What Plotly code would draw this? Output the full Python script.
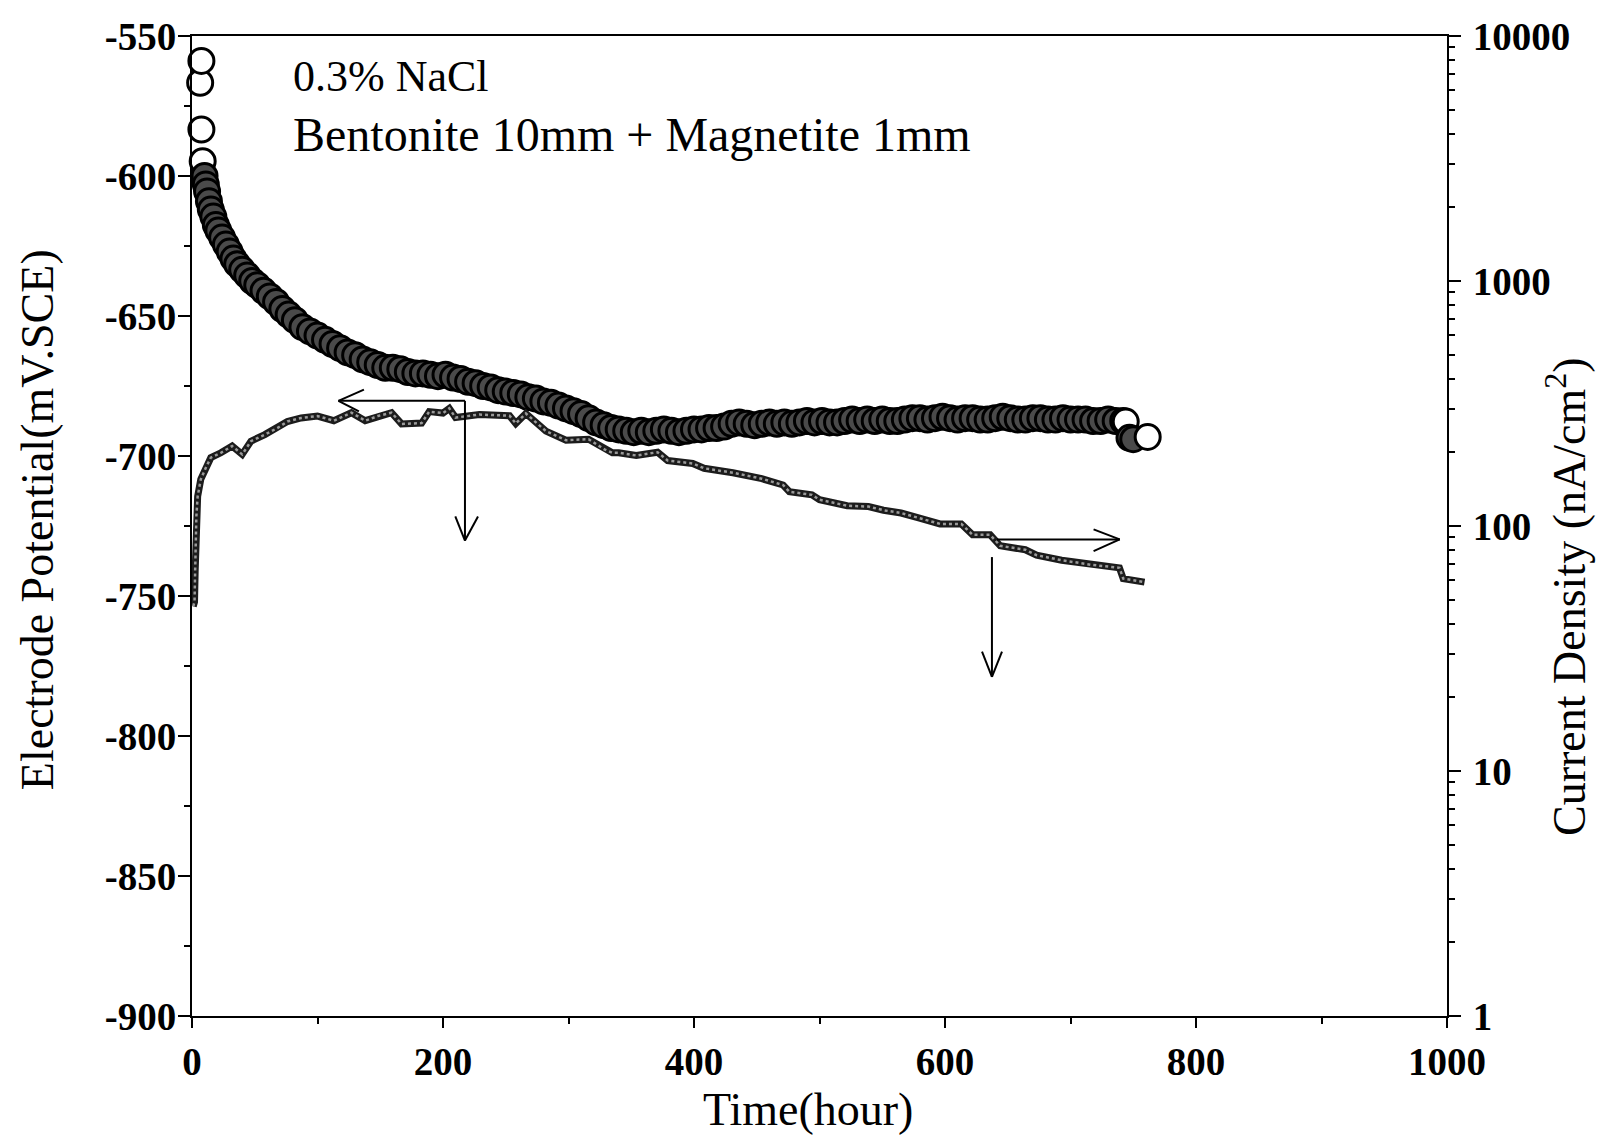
import plotly.graph_objects as go

# ---- Electrode potential (left axis, mV vs SCE) ----
time_pot = [6.5, 7.5, 7.5, 8.5, 10, 11, 12, 13.5, 15, 17, 19, 21, 24, 27, 30, 33, 36, 40, 44, 48,
            52, 57, 62, 67, 72, 77, 82, 88, 94, 100, 106, 112, 118, 124, 130, 136, 142, 148, 154,
            160, 166, 172, 178, 184, 190, 196, 202, 208, 214, 220, 226, 232, 238,
            244, 250, 256, 262, 268, 274, 280, 286, 292, 298, 304, 310, 316, 322, 328, 334,
            340, 346, 352, 358, 364, 370, 376, 382, 388, 394, 400, 406, 412, 418, 424, 430,
            436, 442, 448, 454, 460, 466, 472, 478, 484, 490, 496, 502, 508, 514, 520, 526,
            532, 538, 544, 550, 556, 562, 568, 574, 580, 586, 592, 598, 604, 610, 616, 622,
            628, 634, 640, 646, 652, 658, 664, 670, 676, 682, 688, 694, 700, 706, 712, 718,
            724, 730, 736, 742, 744, 747, 750, 761.5]
potential = [-566.7, -558.9, -583.4, -594.7, -600, -603, -605.5, -609, -612, -614.5,
             -617.5, -619.5, -622, -624.5, -627, -629.5, -631.5, -633.5, -635.5, -637.5,
             -639, -641, -643, -645, -647.5, -649.5, -651.5, -654, -655.5, -657,
             -658.5, -660, -661.5, -663, -664, -665.5, -666.5, -667.5, -668.5,
             -668.5, -669, -670, -670.5,
             -670.5, -671, -671.5, -671, -672, -672.5, -673.5, -674, -675, -675.5, -676.5, -677,
             -677.5, -678, -679, -679.5, -680.5, -681, -682, -683, -684, -685, -686.5, -688,
             -689, -690, -690.5, -691, -691.5, -691, -691.5, -691, -690.5, -691, -691.5, -691,
             -690.5, -690.5, -690, -690, -689.5, -688.5, -688, -688.5, -689, -688.5, -688,
             -688.5, -688, -688.5, -688, -687.5, -688, -687.5, -688, -688, -687.5, -687, -687.5,
             -687, -687.5, -687, -687.5, -687.5, -687, -686.5, -686.5, -687, -686.5, -686,
             -686.5, -687, -686.5, -686.5, -687, -687, -686.5, -686, -686.5, -687, -687, -686.5,
             -686.5, -687, -687, -686.5, -687, -687, -687, -687.5, -687.5, -687, -687.5, -687.5,
             -687.7, -693.5, -694, -693.2]
# circles that appear as open (white) rings in the picture
open_circle_times = [6.5, 7.5, 8.5, 744, 761.5]

# ---- Current density (right axis, nA/cm2, log) ----
time_cd = [1, 2, 2.5, 3.5, 4.5, 7, 11, 15, 23, 32, 40, 47, 58, 68, 76, 87, 100, 113, 127, 138,
           149, 159, 167, 183, 189, 200, 205, 210, 229, 253, 258, 266, 282, 298, 316, 329, 335,
           340, 354, 371, 379, 399, 408, 431, 454, 471, 476, 494, 500, 522, 539, 551, 565, 579,
           596, 613, 622, 636, 644, 664, 673, 693, 716, 739, 742, 759]
current_density = [47, 49, 65, 110, 132, 155, 173, 190, 199, 212, 196, 222, 236, 251, 267, 276,
                   281, 269, 290, 269, 282, 290, 261, 263, 293, 289, 302, 277, 285, 282, 262,
                   288, 244, 224, 226, 205, 199, 199, 194, 200, 185, 180, 172, 165, 156, 147,
                   138, 134, 128, 121, 120, 116, 113, 108, 102, 102, 92, 92, 83, 80, 76, 72.5,
                   69.5, 67.5, 61, 59]

assert len(time_pot) == len(potential)
assert len(time_cd) == len(current_density)

x_ticks = [0, 200, 400, 600, 800, 1000]
left_ticks = [-900, -850, -800, -750, -700, -650, -600, -550]
left_labels = ["-900", "-850", "-800", "-750", "-700", "-650", "-600", "-550"]

# arrow guides (time, potential)
arrow_segments = [
    (116.7, -680.3, 217.5, -680.3), (116.7, -680.3, 137, -676.3), (116.7, -680.3, 133, -684.1),
    (217.5, -680.3, 217.5, -730.2), (217.5, -730.2, 209.8, -721.6), (217.5, -730.2, 227.9, -721.6),
    (641.4, -729.8, 739.2, -729.8), (739.2, -729.8, 718.4, -726.2), (739.2, -729.8, 718.4, -734.0),
    (637.4, -736.1, 637.4, -778.9), (637.4, -778.9, 629.5, -769.9), (637.4, -778.9, 645.4, -769.9),
]

SERIF = "Liberation Serif"

fill_colors = ["white" if t in open_circle_times else "#4a4a4a" for t in time_pot]

fig = go.Figure()
fig.add_trace(go.Scatter(x=time_pot, y=potential, mode="markers", cliponaxis=False,
                         marker=dict(symbol="circle", size=25, color=fill_colors,
                                     line=dict(color="black", width=3)),
                         showlegend=False, hoverinfo="skip"))
fig.add_trace(go.Scatter(x=time_cd, y=current_density, yaxis="y2", mode="lines",
                         line=dict(color="#1c1c1c", width=7), showlegend=False, hoverinfo="skip"))
fig.add_trace(go.Scatter(x=time_cd, y=current_density, yaxis="y2", mode="lines",
                         line=dict(color="#9a9a9a", width=2.5, dash="dot"),
                         showlegend=False, hoverinfo="skip"))

shapes = [dict(type="line", xref="x", yref="y", x0=a, y0=b, x1=c, y1=d,
               line=dict(color="black", width=2)) for (a, b, c, d) in arrow_segments]

tickfont = dict(family=SERIF, size=39, color="black", weight="bold")

fig.update_layout(
    width=1599, height=1138,
    margin=dict(l=192, r=152, t=36, b=122),
    paper_bgcolor="white", plot_bgcolor="white",
    showlegend=False,
    xaxis=dict(range=[0, 1000], tickvals=x_ticks, ticks="outside", ticklen=10, tickwidth=2,
               tickcolor="black", showline=True, linewidth=2, linecolor="black", mirror=True,
               showgrid=False, zeroline=False, tickfont=tickfont,
               minor=dict(dtick=100, ticks="outside", ticklen=6, tickwidth=1.5, tickcolor="black")),
    yaxis=dict(range=[-900, -550], tickvals=left_ticks, ticktext=left_labels, ticks="outside",
               ticklen=12, tickwidth=2, tickcolor="black", showline=True, linewidth=2,
               linecolor="black", showgrid=False, zeroline=False, tickfont=tickfont,
               ticklabelstandoff=-6,
               minor=dict(dtick=25, ticks="outside", ticklen=6, tickwidth=1.5, tickcolor="black")),
    yaxis2=dict(type="log", range=[0, 4], overlaying="y", side="right", dtick=1,
                tickformat="d", ticks="outside", ticklen=12, tickwidth=2, tickcolor="black",
                showline=True, linewidth=2, linecolor="black", showgrid=False, zeroline=False,
                tickfont=tickfont, ticklabelstandoff=4,
                minor=dict(ticks="outside", ticklen=6, tickwidth=1.5, tickcolor="black")),
    shapes=shapes,
    annotations=[
        dict(text="Electrode Potential(mV.SCE)", xref="paper", yref="paper", x=-0.1235, y=0.506,
             textangle=-90, showarrow=False, xanchor="center", yanchor="middle",
             font=dict(family=SERIF, size=46, color="black")),
        dict(text="Current Density (nA/cm<sup>2</sup>)", xref="paper", yref="paper", x=1.0948,
             y=0.4286, textangle=-90, showarrow=False, xanchor="center", yanchor="middle",
             font=dict(family=SERIF, size=46, color="black")),
        dict(text="Time(hour)", xref="paper", yref="paper", x=0.4908, y=-0.0959,
             showarrow=False, xanchor="center", yanchor="middle",
             font=dict(family=SERIF, size=46, color="black")),
        dict(text="0.3% NaCl", xref="paper", yref="paper", x=0.0789, y=0.9587,
             showarrow=False, xanchor="left", yanchor="middle",
             font=dict(family=SERIF, size=44, color="black")),
        dict(text="Bentonite 10mm + Magnetite 1mm", xref="paper", yref="paper", x=0.0789, y=0.899,
             showarrow=False, xanchor="left", yanchor="middle",
             font=dict(family=SERIF, size=48, color="black")),
    ],
)

fig.write_html("out.html")
